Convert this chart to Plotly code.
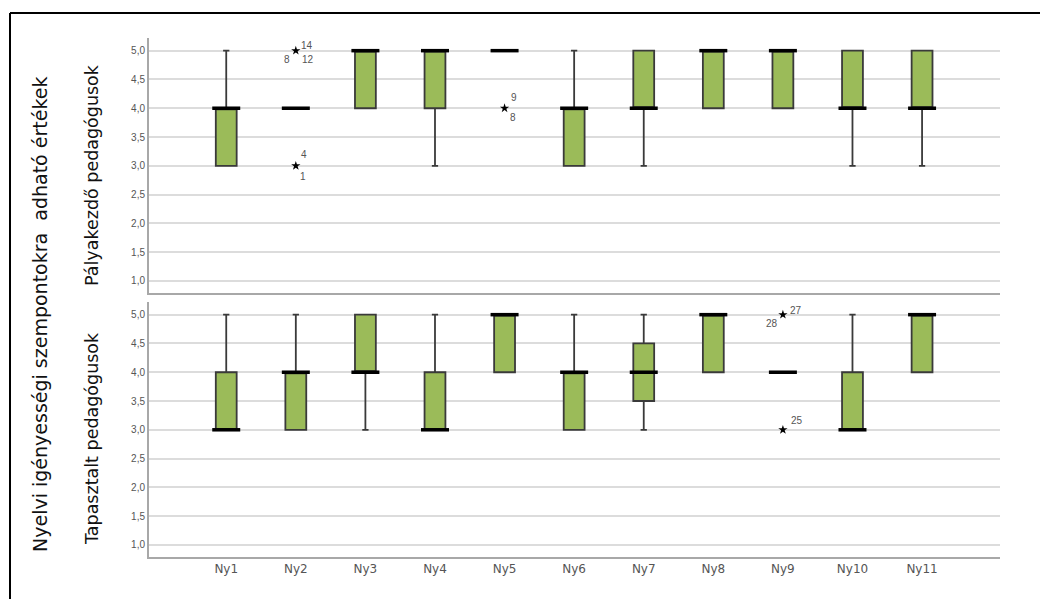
import plotly.graph_objects as go
from plotly.subplots import make_subplots

categories = ["Ny1", "Ny2", "Ny3", "Ny4", "Ny5", "Ny6", "Ny7", "Ny8", "Ny9", "Ny10", "Ny11"]

# Pályakezdő pedagógusok (top panel)
top_lower = [3, 4, 4, 3, 5, 3, 3, 4, 4, 3, 3]
top_q1 = [3, 4, 4, 4, 5, 3, 4, 4, 4, 4, 4]
top_median = [4, 4, 5, 5, 5, 4, 4, 5, 5, 4, 4]
top_q3 = [4, 4, 5, 5, 5, 4, 5, 5, 5, 5, 5]
top_upper = [5, 4, 5, 5, 5, 5, 5, 5, 5, 5, 5]

# Tapasztalt pedagógusok (bottom panel)
bot_lower = [3, 3, 3, 3, 4, 3, 3, 4, 4, 3, 4]
bot_q1 = [3, 3, 4, 3, 4, 3, 3.5, 4, 4, 3, 4]
bot_median = [3, 4, 4, 3, 5, 4, 4, 5, 4, 3, 5]
bot_q3 = [4, 4, 5, 4, 5, 4, 4.5, 5, 4, 4, 5]
bot_upper = [5, 5, 5, 5, 5, 5, 5, 5, 4, 5, 5]

# Outliers (extremes) with case labels
top_out_x = ["Ny2", "Ny2", "Ny5"]
top_out_y = [5, 3, 4]
top_lab_x = ["Ny2", "Ny2", "Ny2", "Ny2", "Ny2", "Ny5", "Ny5"]
top_lab_y = [5, 5, 5, 3, 3, 4, 4]
top_lab_text = ["14", "8", "12", "4", "1", "9", "8"]

bot_out_x = ["Ny9", "Ny9"]
bot_out_y = [5, 3]
bot_lab_x = ["Ny9", "Ny9", "Ny9"]
bot_lab_y = [5, 5, 3]
bot_lab_text = ["27", "28", "25"]

# label offsets in pixels (style only)
top_lab_shift = [(11, 5), (-9, -9), (12, -9), (8, 11), (7, -11), (9, 11), (8, -9)]
bot_lab_shift = [(13, 4), (-11, -9), (14, 9)]

GREEN = "#9BBB59"
FONT = "Liberation Sans, Arial, sans-serif"
WIDE = "DejaVu Sans, sans-serif"

W, H = 1040, 591
ML, MT, MR, MB = 141, 30, 48, 42
PW, PH = W - ML - MR, H - MT - MB


def px_x(px):
    return (px - ML) / PW


def px_y(py):
    return 1 - (py - MT) / PH


fig = make_subplots(rows=2, cols=1, shared_xaxes=True, vertical_spacing=9 / PH)

panels = [
    (1, top_lower, top_q1, top_median, top_q3, top_upper, top_out_x, top_out_y,
     top_lab_x, top_lab_y, top_lab_text, top_lab_shift),
    (2, bot_lower, bot_q1, bot_median, bot_q3, bot_upper, bot_out_x, bot_out_y,
     bot_lab_x, bot_lab_y, bot_lab_text, bot_lab_shift),
]

for (row, lo, q1, med, q3, up, ox, oy, lx, ly, lt, ls) in panels:
    fig.add_trace(go.Box(
        x=categories, q1=q1, median=med, q3=q3, lowerfence=lo, upperfence=up,
        fillcolor=GREEN, line=dict(color="#3a3a3a", width=1.8),
        width=0.3, whiskerwidth=0.3, boxpoints=False, hoverinfo="skip",
        showlegend=False,
    ), row=row, col=1)
    fig.add_trace(go.Scatter(
        x=categories, y=med, mode="markers",
        marker=dict(symbol="line-ew", size=20, line=dict(color="black", width=3.5)),
        showlegend=False, hoverinfo="skip",
    ), row=row, col=1)
    fig.add_trace(go.Scatter(
        x=ox, y=oy, mode="markers",
        marker=dict(symbol="star", size=7, color="black"),
        showlegend=False, hoverinfo="skip",
    ), row=row, col=1)
    xref = "x" if row == 1 else "x2"
    yref = "y" if row == 1 else "y2"
    for xx, yy, tt, (dx, dy) in zip(lx, ly, lt, ls):
        fig.add_annotation(x=xx, y=yy, xref=xref, yref=yref, text=tt, showarrow=False,
                           xshift=dx, yshift=dy,
                           font=dict(family=FONT, size=10, color="#555555"))

yaxis_common = dict(
    range=[0.79, 5.22], tickvals=[1, 1.5, 2, 2.5, 3, 3.5, 4, 4.5, 5], tickformat=".1f",
    showgrid=True, gridcolor="#dcdcdc", gridwidth=2, zeroline=False,
    showline=True, linecolor="#a8a8a8", linewidth=2,
    tickfont=dict(family=FONT, size=10, color="#555"), ticks="",
)
fig.update_yaxes(**yaxis_common)

fig.update_xaxes(
    range=[-1.11, 11.12], showgrid=False, zeroline=False,
    showline=True, linecolor="#a8a8a8", linewidth=2, ticks="",
    tickfont=dict(family=WIDE, size=12, color="#555"),
)
fig.update_xaxes(showticklabels=False, row=1, col=1)

fig.add_annotation(
    text="Nyelvi igényességi szempontokra  adható értékek",
    xref="paper", yref="paper", x=px_x(32), y=px_y(307),
    xanchor="center", yanchor="middle",
    textangle=-90, showarrow=False,
    font=dict(family=WIDE, size=19, color="#111"),
)
fig.add_annotation(
    text="Pályakezdő pedagógusok",
    xref="paper", yref="paper", x=px_x(84), y=px_y(167),
    xanchor="center", yanchor="middle",
    textangle=-90, showarrow=False,
    font=dict(family=WIDE, size=17.5, color="#111"),
)
fig.add_annotation(
    text="Tapasztalt pedagógusok",
    xref="paper", yref="paper", x=px_x(84), y=px_y(431),
    xanchor="center", yanchor="middle",
    textangle=-90, showarrow=False,
    font=dict(family=WIDE, size=17.5, color="#111"),
)

# outer frame (left and top lines)
fig.add_shape(type="line", xref="paper", yref="paper",
              x0=px_x(2), x1=px_x(2), y0=px_y(5), y1=px_y(H + 20),
              line=dict(color="black", width=2))
fig.add_shape(type="line", xref="paper", yref="paper",
              x0=px_x(2), x1=px_x(W + 20), y0=px_y(5), y1=px_y(5),
              line=dict(color="black", width=2))

fig.update_layout(
    width=W, height=H,
    margin=dict(l=ML, r=MR, t=MT, b=MB),
    plot_bgcolor="white", paper_bgcolor="white",
    separators=",.",
    showlegend=False,
    font=dict(family=FONT),
)

fig.write_html("out.html")
